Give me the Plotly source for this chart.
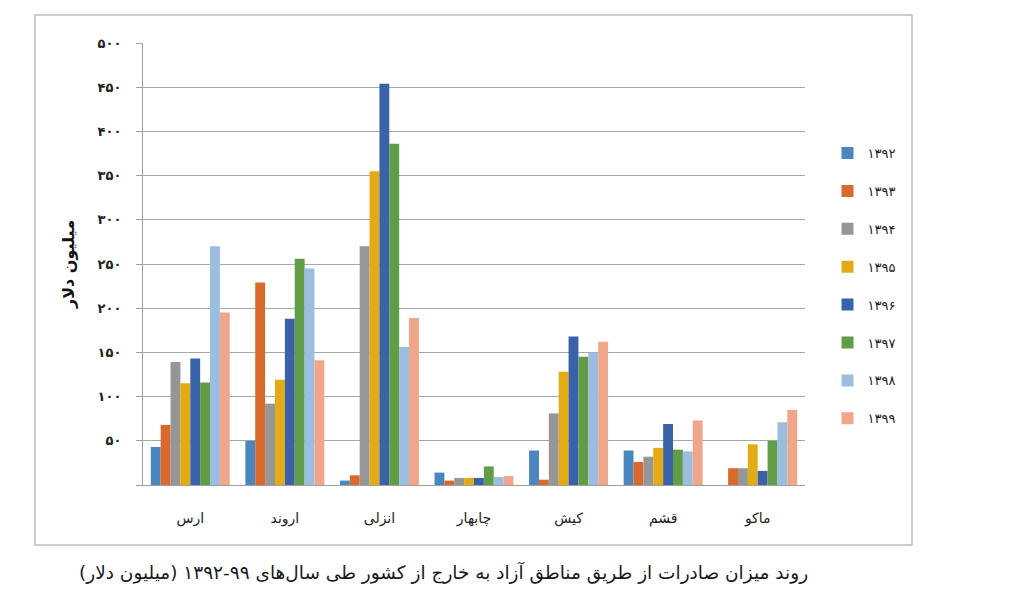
import plotly.graph_objects as go

categories = ["ارس", "اروند", "انزلی", "چابهار", "کیش", "قشم", "ماکو"]
years = ["۱۳۹۲", "۱۳۹۳", "۱۳۹۴", "۱۳۹۵", "۱۳۹۶", "۱۳۹۷", "۱۳۹۸", "۱۳۹۹"]

v1392 = [43, 50, 5, 14, 39, 39, 0]
v1393 = [68, 229, 11, 5, 6, 26, 19]
v1394 = [139, 92, 270, 8, 81, 32, 19]
v1395 = [115, 119, 355, 8, 128, 42, 46]
v1396 = [143, 188, 454, 8, 168, 69, 16]
v1397 = [116, 256, 386, 21, 145, 40, 50]
v1398 = [270, 245, 156, 9, 150, 38, 71]
v1399 = [195, 141, 189, 10, 162, 73, 85]

series = [v1392, v1393, v1394, v1395, v1396, v1397, v1398, v1399]
colors = ["#4a86c0", "#d9692c", "#969696", "#e2ab13", "#3a62a8", "#619c47", "#9bbde0", "#f0a68a"]

tick_vals = [0, 50, 100, 150, 200, 250, 300, 350, 400, 450, 500]
tick_text = ["", "۵۰", "۱۰۰", "۱۵۰", "۲۰۰", "۲۵۰", "۳۰۰", "۳۵۰", "۴۰۰", "۴۵۰", "۵۰۰"]

FONT = "DejaVu Sans"

fig = go.Figure()
for name, vals, col in zip(years, series, colors):
    fig.add_trace(go.Bar(
        x=categories, y=vals, name=name, marker_color=col,
        marker_line_width=0, legendgroup=name,
    ))

# page body has an 8px margin, so the figure is sized/offset to compensate
fig.update_layout(
    width=1016, height=591,
    margin=dict(l=135, r=219, t=35, b=114),
    paper_bgcolor="white", plot_bgcolor="white",
    barmode="group", bargap=0.165, bargroupgap=0,
    font=dict(family=FONT, color="#333333"),
    legend=dict(
        x=1.034, xanchor="left", y=0.785, yanchor="top",
        font=dict(size=13, color="#222222", family=FONT),
        tracegroupgap=18, bgcolor="rgba(0,0,0,0)",
    ),
    showlegend=True,
)

fig.update_xaxes(
    type="category", showline=True, linecolor="#a0a0a0", linewidth=1,
    showgrid=False, ticks="", tickfont=dict(size=14, color="#222222", family=FONT),
    ticklabelstandoff=20,
)
fig.update_yaxes(
    range=[0, 500], tickvals=tick_vals, ticktext=tick_text,
    showline=True, linecolor="#a0a0a0", linewidth=1,
    showgrid=True, gridcolor="#a8a8a8", gridwidth=1,
    ticks="outside", ticklen=6, tickcolor="#a0a0a0",
    tickfont=dict(size=13, color="#222222", family=FONT, weight="bold"),
    ticklabelstandoff=12, zeroline=False,
    title=dict(text="<b>میلیون دلار</b>", font=dict(size=16, color="#111111", family=FONT), standoff=18),
)

# chart frame
fig.add_shape(type="rect", xref="paper", yref="paper",
              x0=-0.1631, x1=1.1616, y0=-0.1357, y1=1.0633,
              line=dict(color="#bdbdbd", width=1.5), fillcolor="rgba(0,0,0,0)", layer="below")

caption = "\u200fروند میزان صادرات از طریق مناطق آزاد به خارج از کشور طی سال‌های ۹۹-۱۳۹۲ (میلیون دلار)\u200f"
fig.add_annotation(text=caption, xref="paper", yref="paper",
                   x=(810 - 143) / 662, y=(485 - 572) / 442, xanchor="right", yanchor="middle",
                   showarrow=False, font=dict(size=18.5, color="#1a1a1a", family=FONT))

fig.write_html("out.html")
